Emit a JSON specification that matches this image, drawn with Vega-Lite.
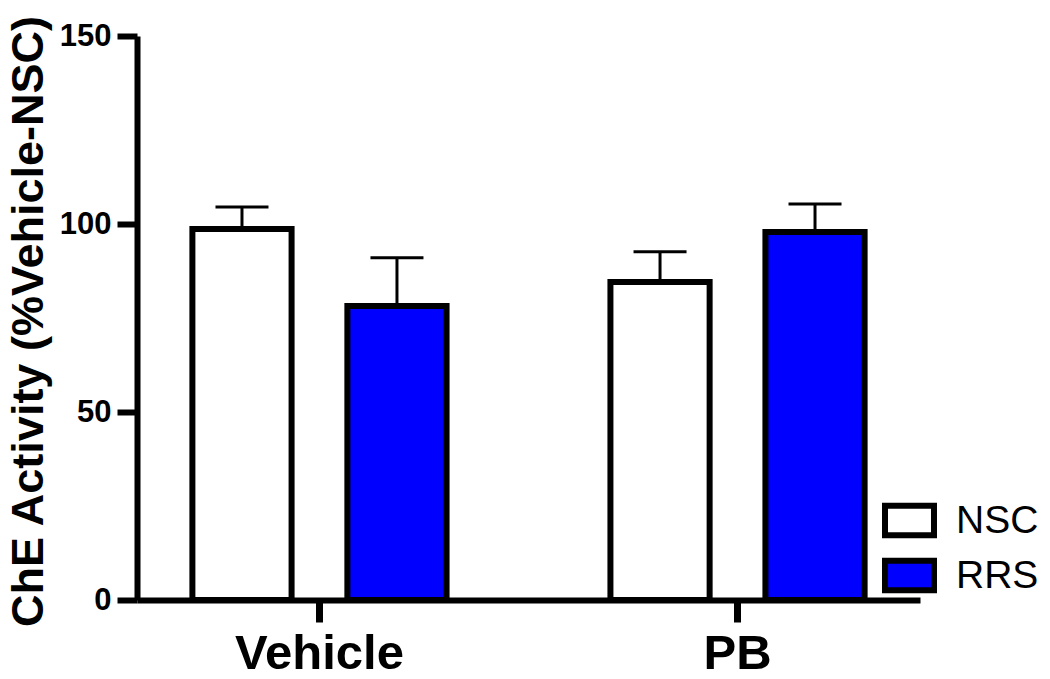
{
  "$schema": "https://vega.github.io/schema/vega-lite/v6.json",
  "width": 783,
  "height": 564,
  "autosize": {"type": "none"},
  "padding": {"left": 137, "top": 36, "right": 130, "bottom": 79},
  "background": "white",
  "config": {"view": {"stroke": null}, "font": "Liberation Sans"},
  "data": {
    "values": [
      {"group": "Vehicle", "cond": "NSC", "value": 98.7, "hi": 104.5},
      {"group": "Vehicle", "cond": "RRS", "value": 78.2, "hi": 91.0},
      {"group": "PB", "cond": "NSC", "value": 84.6, "hi": 92.6},
      {"group": "PB", "cond": "RRS", "value": 97.9, "hi": 105.3}
    ]
  },
  "encoding": {
    "x": {
      "field": "group", "type": "nominal", "sort": ["Vehicle", "PB"],
      "scale": {"paddingInner": 0.392, "paddingOuter": 0.1325},
      "axis": {
        "title": null, "labelAngle": 0, "labelFontSize": 49, "labelFontWeight": "bold",
        "labelColor": "black", "domainColor": "black", "domainWidth": 6,
        "tickColor": "black", "tickWidth": 7, "tickSize": 22, "labelPadding": 7
      }
    },
    "xOffset": {
      "field": "cond", "type": "nominal", "sort": ["NSC", "RRS"],
      "scale": {"paddingInner": 0.36, "paddingOuter": 0}
    }
  },
  "layer": [
    {
      "mark": {"type": "rule", "strokeWidth": 3, "color": "black"},
      "encoding": {
        "y": {
          "field": "value", "type": "quantitative", "scale": {"domain": [0, 150]},
          "axis": {
            "title": "ChE Activity (%Vehicle-NSC)", "titleFontSize": 45, "titleFontWeight": "bold",
            "titleColor": "black", "titleX": -95, "titleY": 285, "titleAngle": -90,
            "titleAlign": "center", "titleBaseline": "alphabetic",
            "values": [0, 50, 100, 150], "grid": false,
            "labelFontSize": 31, "labelFontWeight": "bold", "labelColor": "black", "labelPadding": 6,
            "domainColor": "black", "domainWidth": 6, "tickColor": "black", "tickWidth": 6, "tickSize": 20
          }
        },
        "y2": {"field": "hi"}
      }
    },
    {
      "mark": {"type": "bar", "stroke": "black", "strokeWidth": 6},
      "encoding": {
        "y": {"field": "value", "type": "quantitative", "scale": {"domain": [0, 150]}},
        "fill": {
          "field": "cond", "type": "nominal",
          "scale": {"domain": ["NSC", "RRS"], "range": ["white", "#0000ff"]},
          "legend": {
            "title": null, "orient": "none", "legendX": 745, "legendY": 457,
            "symbolType": "M-1,-0.6L1,-0.6L1,0.6L-1,0.6Z", "symbolSize": 2400,
            "symbolStrokeWidth": 6, "symbolStrokeColor": "black", "symbolOpacity": 1,
            "labelFontSize": 39, "labelColor": "black", "labelOffset": 19,
            "rowPadding": -13, "padding": 0
          }
        }
      }
    },
    {
      "mark": {"type": "tick", "thickness": 3, "size": 53, "color": "black", "opacity": 1, "orient": "horizontal"},
      "encoding": {
        "y": {"field": "hi", "type": "quantitative", "scale": {"domain": [0, 150]}}
      }
    }
  ]
}
